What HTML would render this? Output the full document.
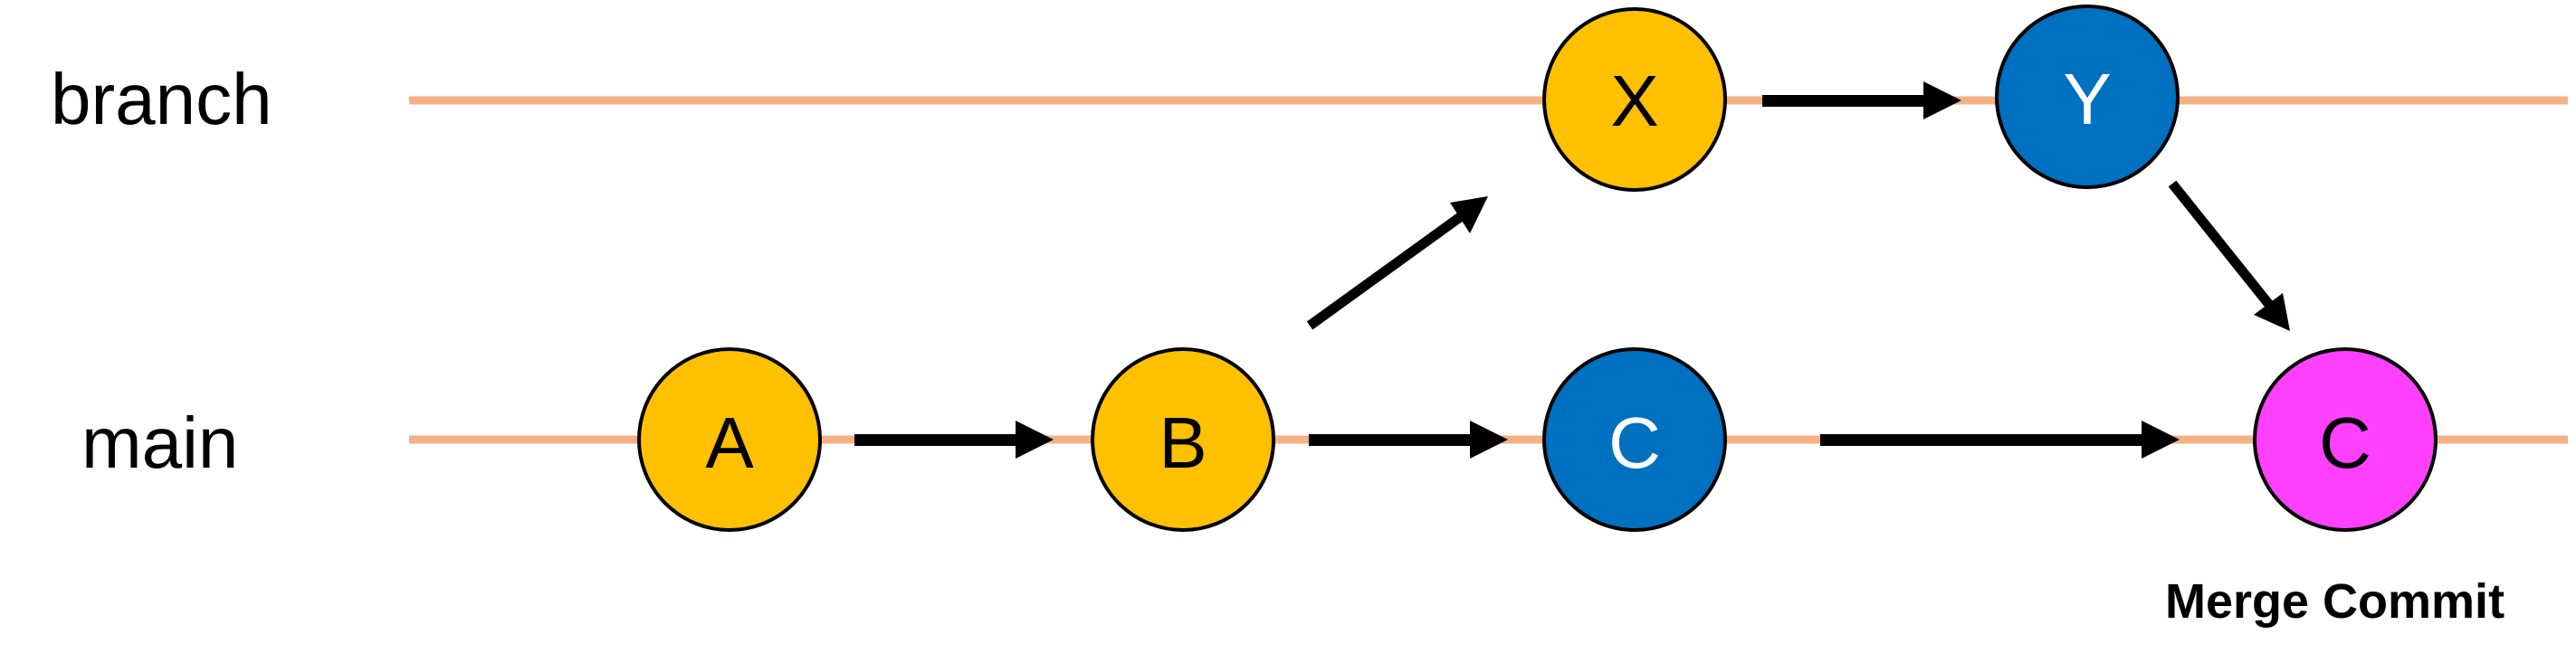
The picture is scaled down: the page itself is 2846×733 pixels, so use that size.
<!DOCTYPE html>
<html><head><meta charset="utf-8"><style>
html,body{margin:0;padding:0;background:#fff;}
svg{display:block;}
text{font-family:"Liberation Sans",sans-serif;}
</style></head><body>
<svg width="2846" height="733" viewBox="0 0 2846 733" xmlns="http://www.w3.org/2000/svg">
<defs>
<marker id="ah" markerWidth="4" markerHeight="4" refX="0" refY="2" orient="auto" markerUnits="strokeWidth">
<path d="M0,0 L0,0 L0,4 L0,4 Z" fill="#000"/>
</marker>
</defs>
<line x1="452" y1="111" x2="2837" y2="111" stroke="#F4B183" stroke-width="9"/>
<line x1="452" y1="486" x2="2837" y2="486" stroke="#F4B183" stroke-width="9"/>
<text x="56" y="137" font-size="80">branch</text>
<text x="90" y="517" font-size="80">main</text>
<g fill="#000">
<!-- A->B -->
<rect x="944" y="480" width="180" height="13"/><polygon points="1122,465 1164,486 1122,507"/>
<!-- B->C -->
<rect x="1446" y="480" width="180" height="13"/><polygon points="1624,465 1666,486 1624,507"/>
<!-- C->merge -->
<rect x="2011" y="480" width="357" height="13"/><polygon points="2366,465 2408,486 2366,507"/>
<!-- X->Y -->
<rect x="1947" y="105" width="180" height="13"/><polygon points="2125,90 2167,111 2125,132"/>
</g>
<line x1="1447" y1="360" x2="1620" y2="235" stroke="#000" stroke-width="11"/>
<polygon points="1644,217 1602,224 1624,258" fill="#000" transform="rotate(0)"/>
<line x1="2400" y1="203" x2="2512" y2="343" stroke="#000" stroke-width="11"/>
<polygon points="2530,366 2522,324 2490,348" fill="#000"/>
<g stroke="#000" stroke-width="4">
<circle cx="806" cy="486" r="100" fill="#FFC000"/>
<circle cx="1307" cy="486" r="100" fill="#FFC000"/>
<circle cx="1806" cy="486" r="100" fill="#0070C0"/>
<circle cx="1806" cy="110" r="100" fill="#FFC000"/>
<circle cx="2306" cy="107" r="100" fill="#0070C0"/>
<circle cx="2591" cy="486" r="100" fill="#FF40FF"/>
</g>
<g font-size="80" text-anchor="middle">
<text x="806" y="517">A</text>
<text x="1307" y="517">B</text>
<text x="1806" y="517" fill="#fff">C</text>
<text x="1806" y="139">X</text>
<text x="2306" y="137" fill="#fff">Y</text>
<text x="2591" y="517">C</text>
</g>
<text x="2392" y="683" font-size="54" font-weight="bold">Merge Commit</text>
</svg>
</body></html>
